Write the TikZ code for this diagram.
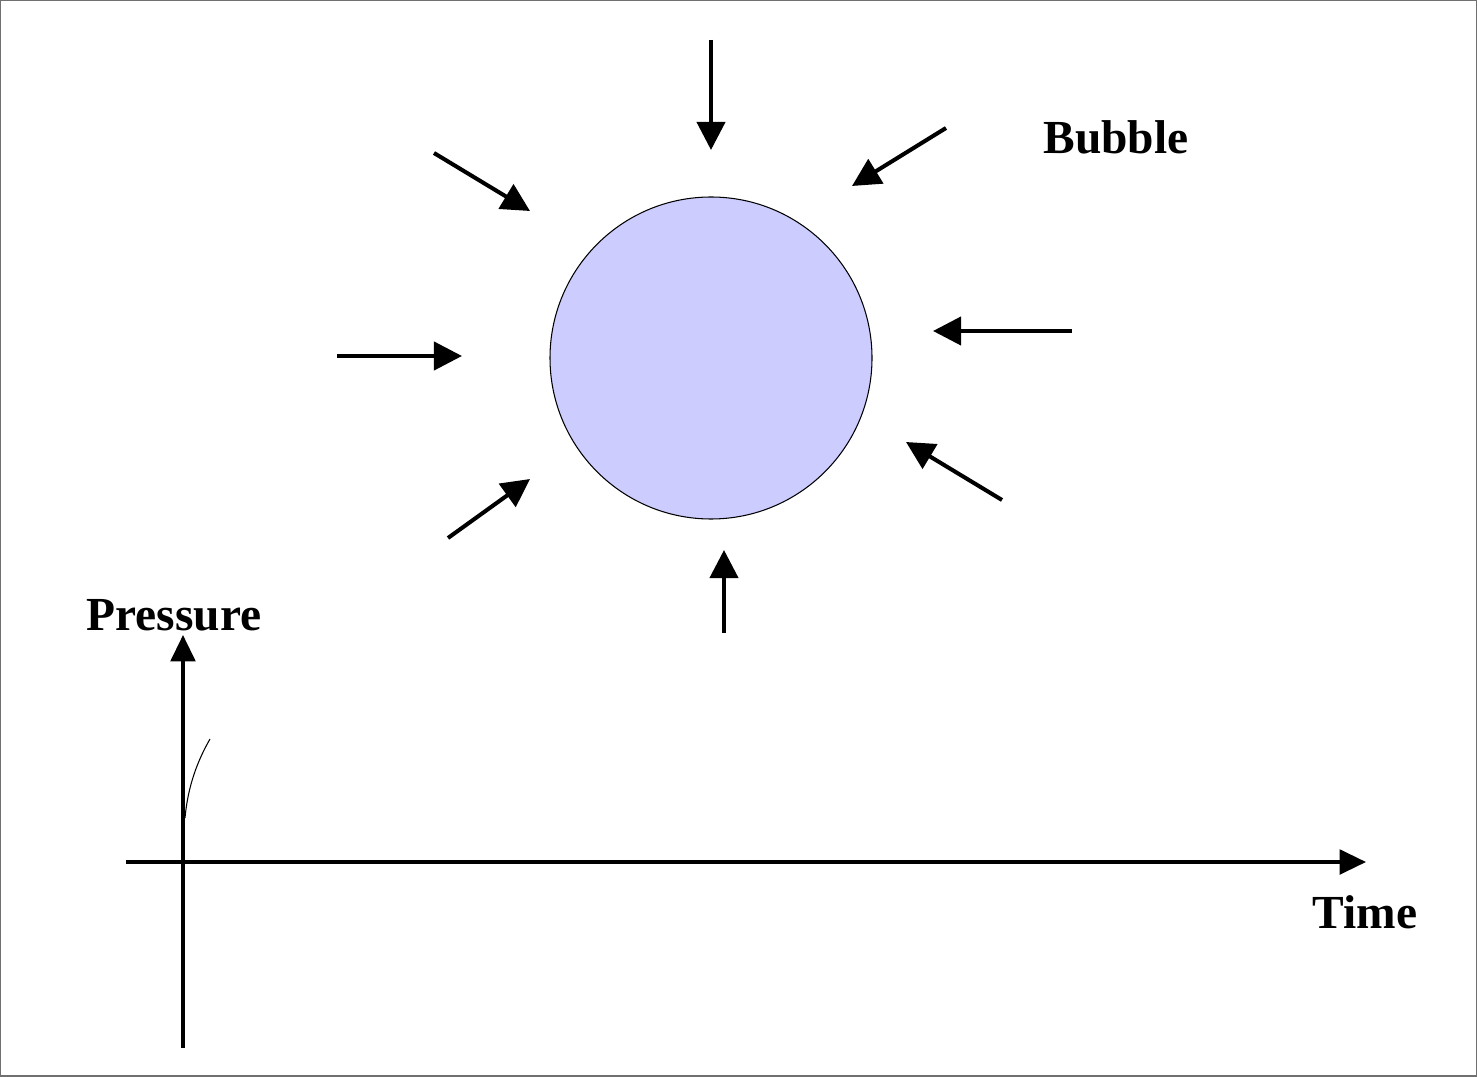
\documentclass[tikz,border=0pt]{standalone}
\usepackage{fontspec}
\setmainfont{Liberation Serif}
\usetikzlibrary{arrows.meta}
\definecolor{bubblefill}{HTML}{CCCCFF}
\definecolor{framegray}{HTML}{707070}
\begin{document}
\begin{tikzpicture}[x=0.02cm,y=-0.02cm,
  push/.style={line width=2.3pt,-{Triangle[length=16pt,width=16pt]}},
  axis/.style={line width=2pt,-{Triangle[length=15pt,width=14pt]}},
  lbl/.style={font=\fontsize{27}{30}\selectfont\bfseries,inner sep=0pt}]
\useasboundingbox (0,0) rectangle (1477,1077);
\draw[framegray,line width=1pt] (0.5,0.5) rectangle (1476.5,1076);
\node[circle,draw=black,line width=0.6pt,fill=bubblefill,minimum size=322*0.02cm,inner sep=0pt] (bub) at (711,358) {};
% inward arrows
\coordinate (a1s) at (711,40);   \coordinate (a1e) at (711,150);
\coordinate (a2s) at (946,128);  \coordinate (a2e) at (852,186);
\coordinate (a3s) at (1072,331); \coordinate (a3e) at (933,331);
\coordinate (a4s) at (1002,500); \coordinate (a4e) at (906,442);
\coordinate (a5s) at (724,633);  \coordinate (a5e) at (724,550);
\coordinate (a6s) at (448,538);  \coordinate (a6e) at (530,479);
\coordinate (a7s) at (337,356);  \coordinate (a7e) at (462,356);
\coordinate (a8s) at (434,153);  \coordinate (a8e) at (530,211);
\foreach \i in {1,...,8} \draw[push] (a\i s) -- (a\i e);
% labels
\node[lbl] (bubble) at (1116,137) {Bubble};
\node[lbl] (pressure) at (174,615) {Pressure};
\node[lbl] (time) at (1365,912) {Time};
% axes
\coordinate (yb) at (183,1048); \coordinate (yt) at (183,635);
\coordinate (xl) at (126,862);  \coordinate (xr) at (1366,862);
\draw[axis] (yb) -- (yt);
\draw[axis] (xl) -- (xr);
% pressure curve
\coordinate (c0) at (185,818); \coordinate (c1) at (210,739);
\draw[line width=0.6pt] (c0) .. controls (188,785) and (198,760) .. (c1);
\end{tikzpicture}
\end{document}
